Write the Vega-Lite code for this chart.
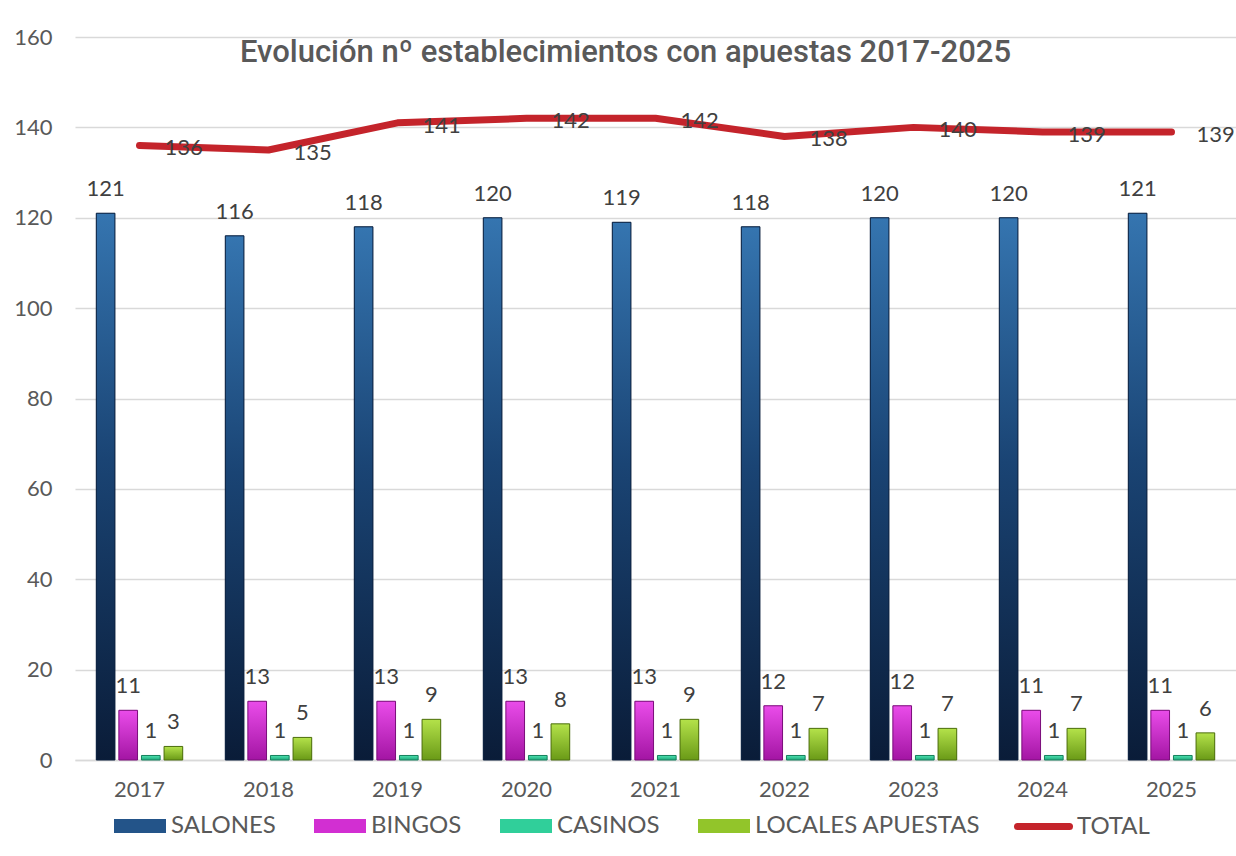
{
  "$schema": "https://vega.github.io/schema/vega-lite/v6.json",
  "width": 1161,
  "height": 723,
  "autosize": {"type": "none"},
  "padding": {"left": 75, "top": 37, "right": 0, "bottom": 96},
  "background": "white",
  "title": {
    "text": "Evolución nº establecimientos con apuestas 2017-2025",
    "anchor": "middle",
    "frame": "group",
    "offset": -67,
    "baseline": "alphabetic",
    "dx": -30,
    "font": "Roboto",
    "fontSize": 31,
    "fontWeight": 500,
    "color": "#595959"
  },
  "config": {
    "view": {"stroke": null},
    "font": "Lato",
    "legend": {"labelFont": "Lato", "labelFontSize": 24, "labelColor": "#595959", "labelLimit": 400}
  },
  "datasets": {
    "bars": [
      {"year": "2017", "serie": "SALONES", "value": 121},
      {"year": "2017", "serie": "BINGOS", "value": 11},
      {"year": "2017", "serie": "CASINOS", "value": 1},
      {"year": "2017", "serie": "LOCALES APUESTAS", "value": 3},
      {"year": "2018", "serie": "SALONES", "value": 116},
      {"year": "2018", "serie": "BINGOS", "value": 13},
      {"year": "2018", "serie": "CASINOS", "value": 1},
      {"year": "2018", "serie": "LOCALES APUESTAS", "value": 5},
      {"year": "2019", "serie": "SALONES", "value": 118},
      {"year": "2019", "serie": "BINGOS", "value": 13},
      {"year": "2019", "serie": "CASINOS", "value": 1},
      {"year": "2019", "serie": "LOCALES APUESTAS", "value": 9},
      {"year": "2020", "serie": "SALONES", "value": 120},
      {"year": "2020", "serie": "BINGOS", "value": 13},
      {"year": "2020", "serie": "CASINOS", "value": 1},
      {"year": "2020", "serie": "LOCALES APUESTAS", "value": 8},
      {"year": "2021", "serie": "SALONES", "value": 119},
      {"year": "2021", "serie": "BINGOS", "value": 13},
      {"year": "2021", "serie": "CASINOS", "value": 1},
      {"year": "2021", "serie": "LOCALES APUESTAS", "value": 9},
      {"year": "2022", "serie": "SALONES", "value": 118},
      {"year": "2022", "serie": "BINGOS", "value": 12},
      {"year": "2022", "serie": "CASINOS", "value": 1},
      {"year": "2022", "serie": "LOCALES APUESTAS", "value": 7},
      {"year": "2023", "serie": "SALONES", "value": 120},
      {"year": "2023", "serie": "BINGOS", "value": 12},
      {"year": "2023", "serie": "CASINOS", "value": 1},
      {"year": "2023", "serie": "LOCALES APUESTAS", "value": 7},
      {"year": "2024", "serie": "SALONES", "value": 120},
      {"year": "2024", "serie": "BINGOS", "value": 11},
      {"year": "2024", "serie": "CASINOS", "value": 1},
      {"year": "2024", "serie": "LOCALES APUESTAS", "value": 7},
      {"year": "2025", "serie": "SALONES", "value": 121},
      {"year": "2025", "serie": "BINGOS", "value": 11},
      {"year": "2025", "serie": "CASINOS", "value": 1},
      {"year": "2025", "serie": "LOCALES APUESTAS", "value": 6}
    ],
    "total": [
      {"year": "2017", "serie": "TOTAL", "value": 136},
      {"year": "2018", "serie": "TOTAL", "value": 135},
      {"year": "2019", "serie": "TOTAL", "value": 141},
      {"year": "2020", "serie": "TOTAL", "value": 142},
      {"year": "2021", "serie": "TOTAL", "value": 142},
      {"year": "2022", "serie": "TOTAL", "value": 138},
      {"year": "2023", "serie": "TOTAL", "value": 140},
      {"year": "2024", "serie": "TOTAL", "value": 139},
      {"year": "2025", "serie": "TOTAL", "value": 139}
    ]
  },
  "encoding": {
    "x": {
      "field": "year",
      "type": "nominal",
      "scale": {"type": "band", "paddingInner": 0.33, "paddingOuter": 0.165},
      "axis": {
        "title": null,
        "ticks": false,
        "labelAngle": 0,
        "domainColor": "#d9d9d9",
        "domainWidth": 1.5,
        "labelPadding": 19,
        "labelFont": "Lato",
        "labelFontSize": 22,
        "labelColor": "#595959"
      }
    },
    "y": {
      "field": "value",
      "type": "quantitative",
      "scale": {"domain": [0, 160], "nice": false},
      "axis": {
        "title": null,
        "values": [0, 20, 40, 60, 80, 100, 120, 140, 160],
        "domain": false,
        "ticks": false,
        "labelPadding": 23,
        "labelFont": "Lato",
        "labelFontSize": 22,
        "labelColor": "#595959",
        "gridColor": "#d9d9d9",
        "gridWidth": 1.5
      }
    }
  },
  "layer": [
    {
      "data": {"name": "bars"},
      "mark": {"type": "bar"},
      "encoding": {
        "xOffset": {
          "field": "serie",
          "type": "nominal",
          "scale": {"domain": ["SALONES", "BINGOS", "CASINOS", "LOCALES APUESTAS"], "paddingInner": 0.174, "paddingOuter": 0}
        },
        "fill": {
          "field": "serie",
          "type": "nominal",
          "scale": {
            "domain": ["SALONES", "BINGOS", "CASINOS", "LOCALES APUESTAS"],
            "range": ["#235489", "#d22fd2", "#30cf9a", "#92c52a"]
          },
          "legend": {
            "orient": "none",
            "legendX": 39,
            "legendY": 763,
            "direction": "horizontal",
            "columns": 4,
            "title": null,
            "symbolType": "M-1,-0.27H1V0.27H-1Z",
            "symbolSize": 2704,
            "symbolStrokeWidth": 0,
            "columnPadding": 38,
            "labelOffset": 5
          }
        }
      }
    },
    {
      "data": {"name": "bars"},
      "mark": {"type": "bar", "strokeWidth": 1},
      "encoding": {
        "xOffset": {"field": "serie", "type": "nominal"},
        "fill": {
          "condition": [
            {"test": "datum.serie === 'SALONES'", "value": {"gradient": "linear", "x1": 0, "y1": 0, "x2": 0, "y2": 1, "stops": [{"offset": 0, "color": "#3575b0"}, {"offset": 0.45, "color": "#1a4474"}, {"offset": 1, "color": "#0a1c38"}]}},
            {"test": "datum.serie === 'BINGOS'", "value": {"gradient": "linear", "x1": 0, "y1": 0, "x2": 0, "y2": 1, "stops": [{"offset": 0, "color": "#ea4cea"}, {"offset": 1, "color": "#a315a3"}]}},
            {"test": "datum.serie === 'CASINOS'", "value": {"gradient": "linear", "x1": 0, "y1": 0, "x2": 0, "y2": 1, "stops": [{"offset": 0, "color": "#4de3b0"}, {"offset": 1, "color": "#1fa77a"}]}}
          ],
          "value": {"gradient": "linear", "x1": 0, "y1": 0, "x2": 0, "y2": 1, "stops": [{"offset": 0, "color": "#b4e24a"}, {"offset": 1, "color": "#6a9a17"}]}
        },
        "stroke": {
          "condition": [
            {"test": "datum.serie === 'SALONES'", "value": "#0b1f3d"},
            {"test": "datum.serie === 'BINGOS'", "value": "#7a0f7a"},
            {"test": "datum.serie === 'CASINOS'", "value": "#17805e"}
          ],
          "value": "#4d6e10"
        }
      }
    },
    {
      "data": {"name": "bars"},
      "mark": {"type": "text", "dy": -17, "baseline": "alphabetic", "align": "center", "fontSize": 22, "font": "Lato", "color": "#404040"},
      "encoding": {
        "xOffset": {"field": "serie", "type": "nominal"},
        "text": {"field": "value", "type": "quantitative"}
      }
    },
    {
      "data": {"name": "total"},
      "mark": {"type": "line", "strokeWidth": 7, "strokeCap": "round", "strokeJoin": "round"},
      "encoding": {
        "stroke": {
          "field": "serie",
          "type": "nominal",
          "scale": {"domain": ["TOTAL"], "range": ["#c4242b"]},
          "legend": {
            "orient": "none",
            "legendX": 939,
            "legendY": 760,
            "title": null,
            "symbolType": "stroke",
            "symbolSize": 2704,
            "symbolStrokeWidth": 7,
            "labelOffset": 4,
            "symbolStrokeColor": "#c4242b",
            "encode": {"symbols": {"update": {"strokeCap": {"value": "round"}}}}
          }
        }
      }
    },
    {
      "data": {"name": "total"},
      "mark": {"type": "text", "align": "left", "baseline": "middle", "dx": 25, "dy": 3, "fontSize": 22, "font": "Lato", "color": "#404040"},
      "encoding": {
        "text": {"field": "value", "type": "quantitative"}
      }
    }
  ]
}
